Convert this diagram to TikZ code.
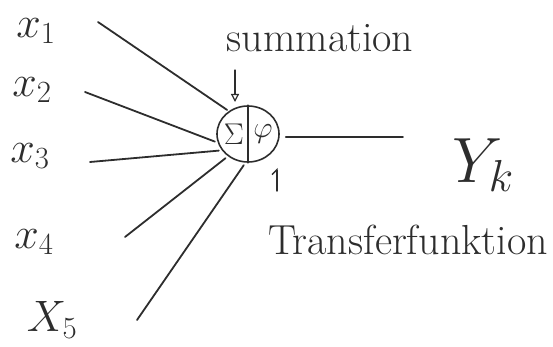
\RequirePackage{fix-cm}
\documentclass[tikz,border=0pt]{standalone}
\usetikzlibrary{shapes.geometric,arrows.meta}
\definecolor{sketchink}{RGB}{45,45,45}

\begin{document}
\begin{tikzpicture}[x=1pt, y=-1pt,
  ink/.style={sketchink, line width=1.8pt, line cap=round},
  lbl/.style={sketchink, inner sep=0pt, font=\fontsize{44}{48}\selectfont},
  note/.style={sketchink, inner sep=0pt, font=\fontsize{42}{46}\selectfont},
  cell/.style={ellipse, draw=sketchink, line width=1.6pt, minimum width=62pt, minimum height=56pt, inner sep=0pt}]
\useasboundingbox (0,0) rectangle (553,347);
%% neuron: summation | transfer
\node[cell] (neuron) at (248,134) {};
\draw[ink, line width=1.6pt] (neuron.north) -- (neuron.south);
\node[sketchink, inner sep=0pt, font=\fontsize{30}{32}\selectfont] (sigma) at (234,134) {$\Sigma$};
\node[sketchink, inner sep=0pt, font=\fontsize{30}{32}\selectfont] (phi) at (263,134) {$\varphi$};
%% inputs
\node[lbl] (x1) at (36,31) {$x_1$};
\node[lbl] (x2) at (32,90) {$x_2$};
\node[lbl] (x3) at (30,156) {$x_3$};
\node[lbl] (x4) at (34,242) {$x_4$};
\node[lbl] (x5) at (52,320) {$X_5$};
\coordinate (in1) at (98,22);
\coordinate (in2) at (85,92);
\coordinate (in3) at (90,162);
\coordinate (in4) at (125,237);
\coordinate (in5) at (137,320);
\draw[ink, shorten >=2pt] (in1) -- (neuron.130);
\draw[ink, shorten >=3pt] (in2) -- (neuron.196);
\draw[ink, shorten >=3pt] (in3) -- (neuron.212);
\draw[ink, shorten >=3pt] (in4) -- (neuron.228);
\draw[ink, shorten >=3pt] (in5) -- (neuron.265);
%% output
\coordinate (out) at (403,137);
\draw[ink, shorten <=6pt] (neuron.east |- out) -- (out);
\node[sketchink, inner sep=0pt, font=\fontsize{64}{68}\selectfont] (yk) at (483,165) {$Y_k$};
%% annotations
\node[note] (sumlbl) at (320,38) {summation};
\coordinate (sumtail) at (235,70);
\coordinate (sumtip) at (235,102);
\draw[ink, line width=1.2pt, -{Triangle[open, length=8pt, width=8pt]}] (sumtail) -- (sumtip);
\node[note] (translbl) at (408,240) {Transferfunktion};
\coordinate (trtail) at (277,191);
\coordinate (trtip) at (277,168);
\draw[ink, line width=1.4pt, -{Straight Barb[left, length=5pt]}] (trtail) -- (trtip);
\end{tikzpicture}
\end{document}
